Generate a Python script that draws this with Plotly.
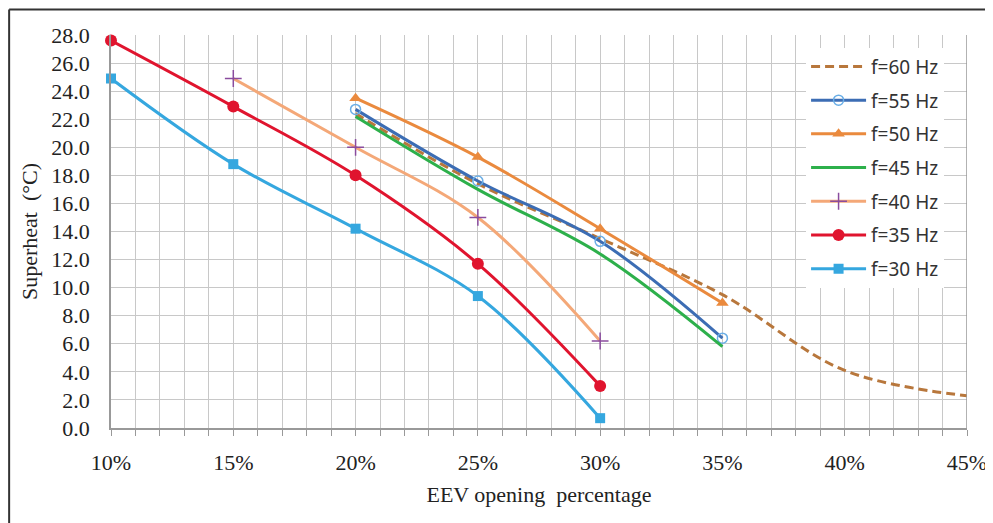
import plotly.graph_objects as go

# EEV opening percentage (x) and superheat (°C) per compressor frequency
x60 = [20, 25, 30, 35, 40, 45]
y60 = [22.4, 17.4, 13.5, 9.5, 4.1, 2.3]

x55 = [20, 25, 30, 35]
y55 = [22.7, 17.6, 13.3, 6.4]

x50 = [20, 25, 30, 35]
y50 = [23.5, 19.3, 14.2, 8.9]

x45 = [20, 25, 30, 35]
y45 = [22.2, 17.0, 12.4, 5.8]

x40 = [15, 20, 25, 30]
y40 = [24.9, 20.0, 15.0, 6.2]

x35 = [10, 15, 20, 25, 30]
y35 = [27.6, 22.9, 18.0, 11.7, 3.0]

x30 = [10, 15, 20, 25, 30]
y30 = [24.9, 18.8, 14.2, 9.4, 0.7]

x_ticks = [10, 15, 20, 25, 30, 35, 40, 45]
y_ticks = [0, 2, 4, 6, 8, 10, 12, 14, 16, 18, 20, 22, 24, 26, 28]

fig = go.Figure()

def add(name, xs, ys, color, width=3, dash=None, marker=None, mode='lines+markers'):
    fig.add_trace(go.Scatter(
        x=xs, y=ys, name=name, mode=mode,
        line=dict(color=color, width=width, shape='spline', smoothing=1, dash=dash),
        marker=marker, cliponaxis=False, legendgroup=name,
    ))

add('f=60 Hz', x60, y60, '#B8773C', dash='9px,5px', mode='lines')
add('f=55 Hz', x55, y55, '#3C6DB4',
    marker=dict(symbol='circle-open', size=10, color='#6AAEE6', line=dict(width=1.5, color='#6AAEE6')))
add('f=50 Hz', x50, y50, '#EA8A3E',
    marker=dict(symbol='triangle-up', size=11, color='#EA8A3E'))
add('f=45 Hz', x45, y45, '#2DB04B', mode='lines')
add('f=40 Hz', x40, y40, '#F4A878',
    marker=dict(symbol='cross-thin', size=12, color='#8A4C9E', line=dict(width=1.5, color='#8A4C9E')))
add('f=35 Hz', x35, y35, '#E0142E',
    marker=dict(symbol='circle', size=12, color='#E0142E'))
add('f=30 Hz', x30, y30, '#35A7DF',
    marker=dict(symbol='square', size=10, color='#35A7DF'))

serif = 'Liberation Serif'
frame = dict(color='#333333', width=2)
fig.update_layout(
    width=985, height=515,
    margin=dict(l=103, r=26, t=27, b=95, autoexpand=False),
    paper_bgcolor='white', plot_bgcolor='white',
    showlegend=True,
    legend=dict(
        x=0.812, y=0.968, xanchor='left', yanchor='top',
        bgcolor='white', borderwidth=0,
        font=dict(family='Noto Sans', size=19, color='#333333'),
        itemwidth=55, traceorder='grouped', tracegroupgap=6,
    ),
    shapes=[
        dict(type='line', xref='paper', yref='paper', x0=-0.119, x1=-0.119, y0=-0.3, y1=1.065,
             line=frame, layer='below'),
        dict(type='line', xref='paper', yref='paper', x0=-0.119, x1=1.04, y0=1.065, y1=1.065,
             line=frame, layer='below'),
    ],
)

fig.update_xaxes(
    range=[10, 45], tickvals=x_ticks, ticktext=[f'{v}%' for v in x_ticks],
    showgrid=True, gridcolor='#C8C8C8', gridwidth=1,
    minor=dict(dtick=1, showgrid=True, gridcolor='#C8C8C8', ticks='outside', ticklen=6, tickcolor='#999999'),
    ticks='outside', ticklen=6, tickcolor='#999999',
    showline=True, linecolor='#999999', linewidth=1.5, mirror=False,
    zeroline=False, automargin=False,
    tickfont=dict(family=serif, size=22, color='#222222'),
    ticklabelstandoff=8,
    title=dict(text='EEV opening  percentage', font=dict(family=serif, size=22, color='#222222'), standoff=12),
)
fig.update_yaxes(
    range=[0, 28], tickvals=y_ticks, ticktext=[f'{v:.1f}' for v in y_ticks],
    showgrid=True, gridcolor='#C8C8C8', gridwidth=1,
    showline=True, linecolor='#999999', linewidth=1.5,
    zeroline=False, ticks='', automargin=False,
    tickfont=dict(family=serif, size=22, color='#222222'),
    ticklabelstandoff=15,
    title=dict(text='Superheat  (°C)', font=dict(family=serif, size=22, color='#222222'), standoff=8),
)
# right border of plot at 45%
fig.add_shape(type='line', xref='x', yref='paper', x0=45, x1=45, y0=0, y1=1,
              line=dict(color='#999999', width=1.5))

fig.write_html('out.html')
